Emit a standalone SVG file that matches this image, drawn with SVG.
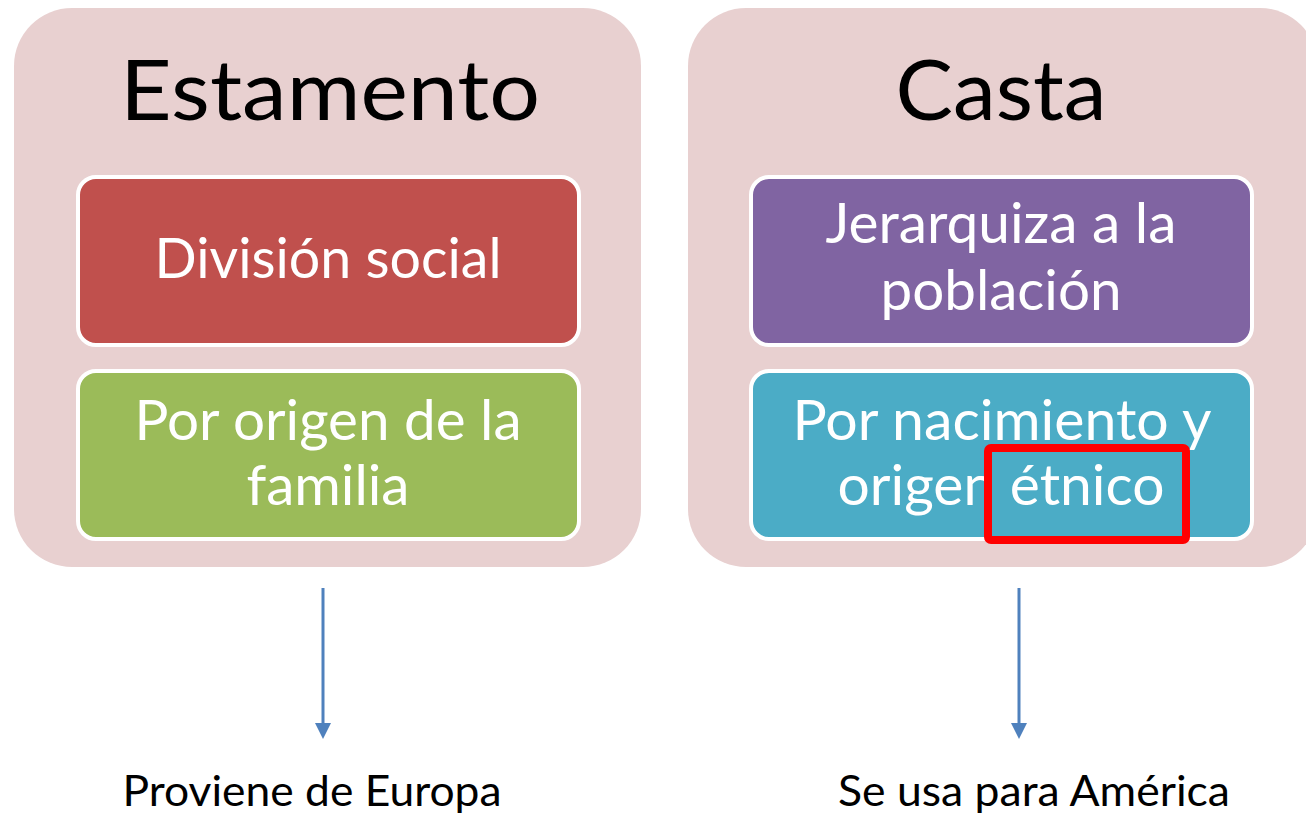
<svg xmlns="http://www.w3.org/2000/svg" width="1306" height="814" viewBox="0 0 1306 814">
<style>
.cont{fill:#E8D0D0;}
.box{stroke:#FFFFFF;stroke-width:4;}
.t{font-family:Lato,"Liberation Sans",sans-serif;text-anchor:middle;}
.title{font-size:84px;fill:#000;}
.bt{font-size:56px;fill:#FFF;}
.lab{font-size:43px;fill:#000;}
.arr{stroke:#4F81BD;stroke-width:3;fill:none;}
</style>
<defs>
<marker id="ah" viewBox="0 0 10 10" refX="5" refY="10" markerWidth="6" markerHeight="6" markerUnits="strokeWidth" orient="auto">
<path d="M0,0 L10,0 L5,10 z" fill="#4F81BD"/>
</marker>
</defs>
<rect width="1306" height="814" fill="#FFFFFF"/>
<g id="estamento">
<rect class="cont" x="14" y="8" width="627" height="559" rx="58" ry="58"/>
<text class="t title" x="330" y="120" textLength="420" lengthAdjust="spacingAndGlyphs">Estamento</text>
</g>
<g id="division-social">
<rect class="box" x="78" y="177" width="501" height="168" rx="18" fill="#C0504D"/>
<text class="t bt" x="328" y="278" textLength="347" lengthAdjust="spacingAndGlyphs">División social</text>
</g>
<g id="origen-familia">
<rect class="box" x="78" y="371" width="501" height="168" rx="18" fill="#9BBB59"/>
<text class="t bt" x="328" y="440" textLength="387" lengthAdjust="spacingAndGlyphs">Por origen de la</text>
<text class="t bt" x="328" y="505" textLength="163" lengthAdjust="spacingAndGlyphs">familia</text>
</g>
<g id="casta">
<rect class="cont" x="688" y="8" width="630" height="559" rx="58" ry="58"/>
<text class="t title" x="1001" y="120" textLength="211" lengthAdjust="spacingAndGlyphs">Casta</text>
</g>
<g id="jerarquiza">
<rect class="box" x="751" y="177" width="501" height="168" rx="18" fill="#8064A2"/>
<text class="t bt" x="1001" y="243" textLength="351" lengthAdjust="spacingAndGlyphs">Jerarquiza a la</text>
<text class="t bt" x="1001" y="310" textLength="241" lengthAdjust="spacingAndGlyphs">población</text>
</g>
<g id="nacimiento">
<rect class="box" x="751" y="371" width="501" height="168" rx="18" fill="#4BACC6"/>
<text class="t bt" x="1002" y="440" textLength="419" lengthAdjust="spacingAndGlyphs">Por nacimiento y</text>
<text class="t bt" x="1001" y="505" textLength="327" lengthAdjust="spacingAndGlyphs">origen étnico</text>
</g>
<g id="highlight">
<rect x="988" y="448" width="198" height="92" rx="3" fill="none" stroke="#FF0000" stroke-width="8"/>
</g>
<g id="connectors">
<line class="arr" x1="323" y1="588" x2="323" y2="724"/>
<path d="M315,723 L331,723 L323,739 z" fill="#4F81BD"/>
<line class="arr" x1="1019" y1="588" x2="1019" y2="724"/>
<path d="M1011,723 L1027,723 L1019,739 z" fill="#4F81BD"/>
</g>
<g id="proviene">
<text class="t lab" x="312" y="806" textLength="379" lengthAdjust="spacingAndGlyphs">Proviene de Europa</text>
</g>
<g id="america">
<text class="t lab" x="1034" y="806" textLength="392" lengthAdjust="spacingAndGlyphs">Se usa para América</text>
</g>
</svg>
